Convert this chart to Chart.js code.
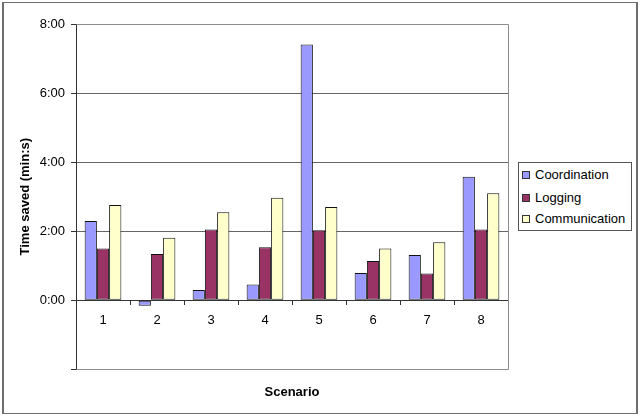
<!DOCTYPE html>
<html>
<head>
<meta charset="utf-8">
<script src="https://cdn.jsdelivr.net/npm/chart.js@4/dist/chart.umd.min.js"></script>
<style>
  html, body { margin: 0; padding: 0; background: #fff; }
  #wrap { position: relative; width: 640px; height: 416px; overflow: hidden; }
  #frame {
    position: absolute; left: 2px; top: 2px; width: 632px; height: 410px;
    border: 1px solid #6e6e6e; border-left-width: 2px; border-right-width: 2px;
    pointer-events: none;
  }
  #legend {
    position: absolute; left: 518px; top: 162px; width: 112px; height: 67px;
    border: 1px solid #555; background: #fff;
    font: 13px "Liberation Sans", Arial, sans-serif; color: #000;
  }
  .lg-item { position: absolute; left: 0; height: 16px; line-height: 16px; white-space: nowrap; }
  .lg-box { position: absolute; left: 3px; top: 4px; width: 6px; height: 6px; border: 1px solid #333; }
  .lg-text { position: absolute; left: 16px; top: 0; }
</style>
</head>
<body>
<div id="wrap">
  <canvas id="chart" width="640" height="416"></canvas>
  <div id="legend"></div>
  <div id="frame"></div>
</div>
<script>
/* Time saved per scenario (values in minutes) */

const SCENARIOS = ["1", "2", "3", "4", "5", "6", "7", "8"];
const COORDINATION = [2.30, -0.16, 0.30, 0.46, 7.41, 0.79, 1.31, 3.58];
const LOGGING = [1.50, 1.34, 2.05, 1.54, 2.03, 1.14, 0.78, 2.05];
const COMMUNICATION = [2.76, 1.81, 2.55, 2.97, 2.70, 1.50, 1.68, 3.10];
const Y_TICKS = [-2, 0, 2, 4, 6, 8];

const SERIES = [
  ["Coordination", COORDINATION, "#9999ff"],
  ["Logging", LOGGING, "#993366"],
  ["Communication", COMMUNICATION, "#ffffcc"],
];

Chart.defaults.font.family = "'Liberation Sans', Arial, sans-serif";
Chart.defaults.font.size = 13;
Chart.defaults.color = "#000";

// m:ss, negatives left blank like the original sheet
function fmtTime(v) {
  if (v < 0) return "";
  const m = Math.floor(v);
  const s = Math.round((v - m) * 60);
  return m + ":" + String(s).padStart(2, "0");
}

// gray frame round the plot area
const plotFrame = {
  id: "plotFrame",
  beforeDatasetsDraw(chart) {
    const a = chart.chartArea;
    const ctx = chart.ctx;
    ctx.save();
    ctx.strokeStyle = "#8c8c8c";
    ctx.lineWidth = 1;
    ctx.beginPath();
    ctx.moveTo(Math.round(a.left) + 0.5, Math.round(a.top) + 0.5);
    ctx.lineTo(Math.round(a.right) + 0.5, Math.round(a.top) + 0.5);
    ctx.lineTo(Math.round(a.right) + 0.5, Math.round(a.bottom) + 0.5);
    ctx.lineTo(Math.round(a.left) + 0.5, Math.round(a.bottom) + 0.5);
    ctx.stroke();
    ctx.restore();
  },
};

new Chart(document.getElementById("chart"), {
  type: "bar",
  data: {
    labels: SCENARIOS,
    datasets: SERIES.map(([label, data, color]) => ({
      label,
      data,
      backgroundColor: color,
      borderColor: "#111",
      borderWidth: 1,
      borderSkipped: false,
      categoryPercentage: 0.68,
      barPercentage: 1.0,
    })),
  },
  options: {
    responsive: false,
    animation: false,
    layout: { padding: { left: 0, right: 132, top: 24, bottom: 6 } },
    plugins: {
      legend: { display: false },
      tooltip: { enabled: false },
      title: {
        display: true,
        text: "Scenario",
        position: "bottom",
        fullSize: false,
        font: { size: 13, weight: "bold" },
        color: "#000",
        padding: { top: 15, bottom: 10 },
      },
    },
    scales: {
      x: {
        position: { y: 0 },
        grid: { display: true, drawOnChartArea: false, offset: true, tickLength: 4, color: "#333" },
        border: { color: "#333", width: 1 },
        ticks: { padding: 8, color: "#000" },
      },
      y: {
        min: -2,
        max: 8,
        afterFit(s) { s.width = 76; },
        afterBuildTicks(s) { s.ticks = Y_TICKS.map((v) => ({ value: v })); },
        grid: {
          color: (c) => (c.tick && c.tick.value < 0 ? "rgba(0,0,0,0)" : "#666"),
          tickColor: "#333",
          tickLength: 5,
        },
        border: { color: "#333", width: 1 },
        ticks: { padding: 6, color: "#000", callback: (v) => fmtTime(v) },
        title: {
          display: true,
          text: "Time saved (min:s)",
          font: { size: 13, weight: "bold" },
          color: "#000",
          padding: { top: 18, bottom: 0 },
        },
      },
    },
  },
  plugins: [plotFrame],
});

// legend as plain html, box to the right of the plot
const legendEl = document.getElementById("legend");
const LEGEND_ROWS = [4, 27, 48];
legendEl.innerHTML = SERIES.map(([label, , color], i) =>
  `<div class="lg-item" style="top:${LEGEND_ROWS[i]}px">
     <span class="lg-box" style="background:${color}"></span>
     <span class="lg-text">${label}</span>
   </div>`
).join("");
</script>
</body>
</html>
